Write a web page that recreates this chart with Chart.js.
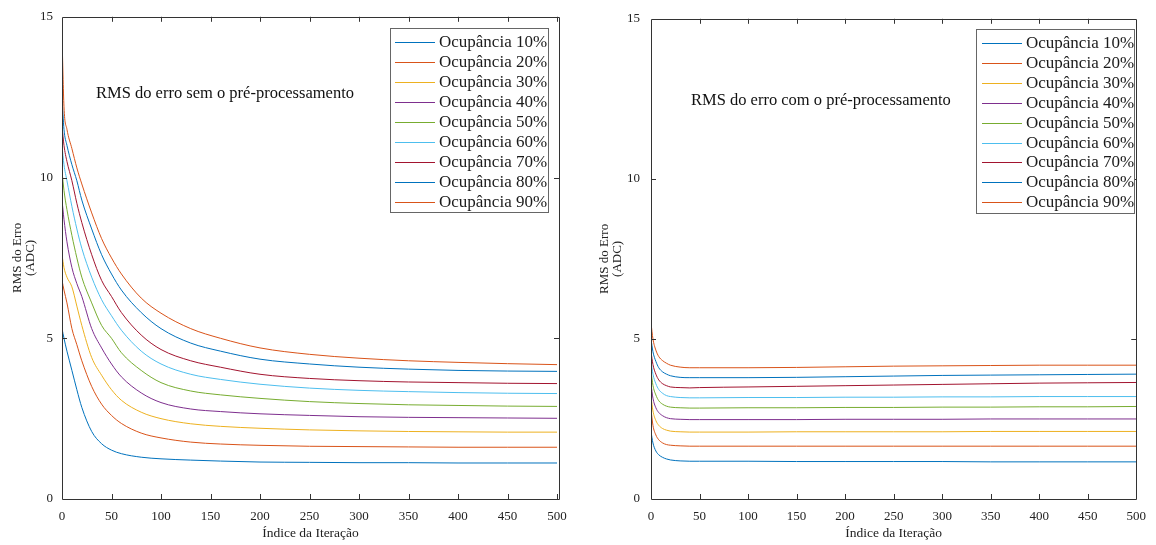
<!DOCTYPE html>
<html><head><meta charset="utf-8">
<script src="https://cdn.jsdelivr.net/npm/chart.js@4.4.1/dist/chart.umd.min.js"></script>
<style>
html,body{margin:0;padding:0;background:#fff;}
#wrap{position:relative;width:1156px;height:545px;overflow:hidden;background:#fff;}
#c1{position:absolute;left:0;top:0;width:580px;height:545px;}
#c2{position:absolute;left:580px;top:0;width:576px;height:545px;}
</style></head><body>
<div id="wrap"><canvas id="c1" width="580" height="545"></canvas><canvas id="c2" width="576" height="545"></canvas></div>
<script>
// ---- data ----
const seriesLabels = ['Ocupância 10%','Ocupância 20%','Ocupância 30%','Ocupância 40%','Ocupância 50%','Ocupância 60%','Ocupância 70%','Ocupância 80%','Ocupância 90%'];
const seriesColors = ['#0072BD','#D95319','#EDB120','#7E2F8E','#77AC30','#4DBEEE','#A2142F','#0072BD','#D95319'];
const xTickValues = [0,50,100,150,200,250,300,350,400,450,500];
const yTickValues = [0,5,10,15];

// left: sem pré-processamento
const iterLeft = [0,2,5,10,15,20,30,40,50,60,80,100,130,160,200,250,300,350,400,450,500];
const semOcc10 = [5.3,5.0,4.6,4.0,3.4,2.85,2.1,1.72,1.52,1.41,1.3,1.25,1.21,1.18,1.15,1.14,1.13,1.13,1.12,1.12,1.12];
const semOcc20 = [6.8,6.5,6.1,5.3,4.8,4.3,3.5,2.95,2.6,2.35,2.05,1.9,1.77,1.71,1.67,1.64,1.63,1.62,1.61,1.61,1.61];
const semOcc30 = [7.6,7.2,6.9,6.6,6.0,5.4,4.4,3.85,3.4,3.07,2.7,2.5,2.34,2.26,2.2,2.15,2.12,2.1,2.09,2.08,2.08];
const semOcc40 = [9.3,8.7,8.0,7.2,6.7,6.3,5.3,4.7,4.2,3.8,3.3,3.0,2.8,2.72,2.65,2.6,2.56,2.54,2.53,2.52,2.51];
const semOcc50 = [10.2,9.6,9.0,8.2,7.5,6.9,6.1,5.4,5.0,4.55,4.0,3.62,3.36,3.24,3.13,3.03,2.97,2.93,2.91,2.89,2.88];
const semOcc60 = [11.0,10.4,9.9,9.1,8.4,7.8,6.9,6.2,5.7,5.25,4.6,4.2,3.88,3.72,3.57,3.45,3.38,3.34,3.31,3.29,3.28];
const semOcc70 = [11.6,11.0,10.5,9.9,9.2,8.6,7.6,6.8,6.3,5.8,5.1,4.65,4.3,4.1,3.88,3.75,3.68,3.64,3.62,3.6,3.59];
const semOcc80 = [12.5,11.5,11.0,10.4,9.9,9.3,8.4,7.6,7.0,6.5,5.8,5.3,4.85,4.6,4.35,4.2,4.1,4.04,4.0,3.98,3.97];
const semOcc90 = [14.4,12.2,11.5,10.9,10.3,9.8,8.9,8.1,7.5,7.0,6.25,5.78,5.3,5.0,4.7,4.5,4.38,4.3,4.25,4.21,4.18];

// right: com pré-processamento
const iterRight = [0,2,5,8,12,16,20,30,40,50,100,150,200,250,300,350,400,450,500];
const comOcc10 = [2.1,1.75,1.5,1.38,1.3,1.25,1.22,1.19,1.18,1.18,1.18,1.17,1.17,1.17,1.17,1.16,1.16,1.16,1.16];
const comOcc20 = [2.8,2.3,2.0,1.85,1.75,1.7,1.68,1.66,1.65,1.65,1.65,1.65,1.65,1.65,1.65,1.65,1.65,1.65,1.65];
const comOcc30 = [3.2,2.75,2.45,2.3,2.2,2.15,2.12,2.1,2.09,2.09,2.09,2.1,2.1,2.1,2.1,2.11,2.11,2.11,2.11];
const comOcc40 = [3.6,3.15,2.85,2.7,2.6,2.54,2.51,2.49,2.48,2.48,2.48,2.48,2.49,2.49,2.49,2.5,2.5,2.5,2.5];
const comOcc50 = [4.0,3.55,3.25,3.07,2.96,2.9,2.87,2.85,2.84,2.84,2.85,2.85,2.86,2.86,2.87,2.87,2.88,2.88,2.89];
const comOcc60 = [4.3,3.9,3.6,3.42,3.3,3.23,3.2,3.17,3.16,3.16,3.17,3.17,3.18,3.18,3.19,3.19,3.2,3.2,3.2];
const comOcc70 = [4.6,4.2,3.9,3.72,3.6,3.54,3.5,3.48,3.47,3.48,3.5,3.52,3.54,3.56,3.58,3.6,3.62,3.63,3.64];
const comOcc80 = [5.0,4.6,4.3,4.1,3.97,3.9,3.85,3.8,3.79,3.79,3.79,3.8,3.82,3.84,3.86,3.87,3.88,3.89,3.9];
const comOcc90 = [5.5,5.0,4.65,4.45,4.32,4.24,4.18,4.12,4.1,4.1,4.1,4.11,4.13,4.15,4.16,4.17,4.18,4.18,4.18];

const leftTitle = 'RMS do erro sem o pré-processamento';
const rightTitle = 'RMS do erro com o pré-processamento';
const xAxisTitle = 'Índice da Iteração';
const yAxisTitle = ['RMS do Erro','(ADC)'];

// ---- drawing ----
const SERIF = '"Liberation Serif", "Times New Roman", serif';
const AXIS_COLOR = '#333';

const boxPlugin = {
  id: 'boxPlugin',
  afterDraw(chart, args, opts) {
    const {ctx, chartArea: a} = chart;
    const xs = chart.scales.x, ys = chart.scales.y;
    ctx.save();
    ctx.strokeStyle = AXIS_COLOR;
    ctx.lineWidth = 1;
    ctx.beginPath();
    ctx.rect(Math.round(a.left) + 0.5, Math.round(a.top) + 0.5, Math.round(a.right - a.left), Math.round(a.bottom - a.top));
    ctx.stroke();
    const tl = 5;
    ctx.beginPath();
    xs.ticks.forEach(t => {
      const px = Math.round(xs.getPixelForValue(t.value)) + 0.5;
      if (px <= a.left + 1 || px >= a.right - 1) return;
      ctx.moveTo(px, a.bottom); ctx.lineTo(px, a.bottom - tl);
      ctx.moveTo(px, a.top); ctx.lineTo(px, a.top + tl);
    });
    ys.ticks.forEach(t => {
      const py = Math.round(ys.getPixelForValue(t.value)) + 0.5;
      if (py <= a.top + 1 || py >= a.bottom - 1) return;
      ctx.moveTo(a.left, py); ctx.lineTo(a.left + tl, py);
      ctx.moveTo(a.right, py); ctx.lineTo(a.right - tl, py);
    });
    ctx.stroke();

    // annotation text
    ctx.fillStyle = '#111';
    ctx.font = '16.5px ' + SERIF;
    ctx.textBaseline = 'alphabetic';
    ctx.textAlign = 'left';
    ctx.fillText(opts.text, opts.textX, opts.textY);

    // legend
    const L = opts.legend;
    ctx.fillStyle = '#fff';
    ctx.fillRect(L.x, L.y, L.w, L.h);
    ctx.strokeStyle = '#666';
    ctx.strokeRect(L.x + 0.5, L.y + 0.5, L.w, L.h);
    ctx.font = '17px ' + SERIF;
    ctx.textBaseline = 'middle';
    chart.data.datasets.forEach((ds, i) => {
      const cy = Math.round(L.y + L.first + i * L.step) + 0.5;
      ctx.strokeStyle = ds.borderColor;
      ctx.lineWidth = 1;
      ctx.beginPath();
      ctx.moveTo(L.x + L.lineStart, cy); ctx.lineTo(L.x + L.lineEnd, cy);
      ctx.stroke();
      ctx.fillStyle = '#1a1a1a';
      ctx.fillText(ds.label, L.x + L.textStart, cy);
    });
    ctx.restore();
  }
};

function makeChart(canvasId, iters, arrays, cfg) {
  const datasets = arrays.map((arr, i) => ({
    label: seriesLabels[i],
    data: iters.map((x, j) => ({x: x, y: arr[j]})),
    borderColor: seriesColors[i],
    backgroundColor: seriesColors[i],
    borderWidth: 1,
    pointRadius: 0,
    fill: false,
    cubicInterpolationMode: 'monotone',
    order: arrays.length - i
  }));
  return new Chart(document.getElementById(canvasId), {
    type: 'line',
    data: {datasets},
    plugins: [boxPlugin],
    options: {
      responsive: false,
      devicePixelRatio: 1,
      animation: false,
      events: [],
      layout: {padding: {top: 15, right: cfg.padRight, left: 0, bottom: 0}},
      plugins: {
        legend: {display: false},
        tooltip: {enabled: false},
        boxPlugin: {text: cfg.text, textX: cfg.textX, textY: cfg.textY, legend: cfg.legend}
      },
      scales: {
        x: {
          type: 'linear', min: 0, max: cfg.xMax,
          afterBuildTicks: s => { s.ticks = xTickValues.map(v => ({value: v})); },
          afterFit: s => { s.height = 46; },
          grid: {display: false, drawTicks: false},
          border: {display: false},
          ticks: {font: {family: SERIF, size: 13}, color: '#222', padding: 10, maxRotation: 0, autoSkip: false},
          title: {display: true, text: xAxisTitle, font: {family: SERIF, size: 13.5, lineHeight: 1}, color: '#222', padding: {top: 0, bottom: 5}}
        },
        y: {
          type: 'linear', min: 0, max: 15,
          afterBuildTicks: s => { s.ticks = yTickValues.map(v => ({value: v})); },
          afterFit: s => { s.width = cfg.yWidth; },
          grid: {display: false, drawTicks: false},
          border: {display: false},
          ticks: {font: {family: SERIF, size: 13}, color: '#222', padding: cfg.yTickPad},
          title: {display: true, text: yAxisTitle, font: {family: SERIF, size: 13, lineHeight: 1}, color: '#222', padding: {top: cfg.yTitlePad, bottom: 0}}
        }
      }
    }
  });
}

makeChart('c1', iterLeft, [semOcc10, semOcc20, semOcc30, semOcc40, semOcc50, semOcc60, semOcc70, semOcc80, semOcc90], {
  padRight: 21, xMax: 502, yWidth: 62, yTickPad: 9, yTitlePad: 11.5,
  text: leftTitle, textX: 96, textY: 98,
  legend: {x: 390, y: 28, w: 158, h: 184, first: 13.5, step: 20, lineStart: 5, lineEnd: 45, textStart: 49}
});
makeChart('c2', iterRight, [comOcc10, comOcc20, comOcc30, comOcc40, comOcc50, comOcc60, comOcc70, comOcc80, comOcc90], {
  padRight: 7, xMax: 500, yWidth: 71, yTickPad: 11, yTitlePad: 18.5,
  text: rightTitle, textX: 111, textY: 105,
  legend: {x: 396, y: 29, w: 158, h: 184, first: 14, step: 19.9, lineStart: 6, lineEnd: 46, textStart: 50}
});
</script>
</body></html>
